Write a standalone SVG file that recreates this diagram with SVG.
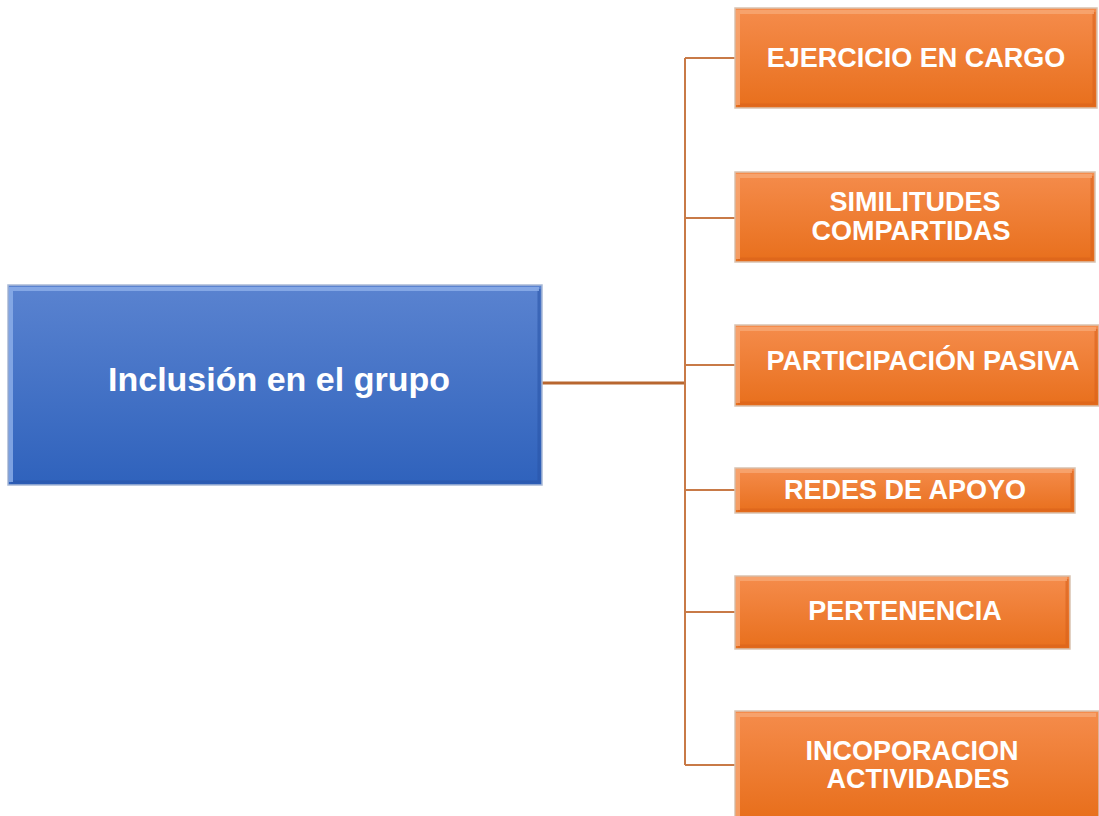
<svg xmlns="http://www.w3.org/2000/svg" width="1099" height="816" viewBox="0 0 1099 816">
<defs>
<linearGradient id="gO" x1="0" y1="0" x2="0" y2="1">
<stop offset="0" stop-color="#F58C4C"/>
<stop offset="1" stop-color="#E86F1C"/>
</linearGradient>
<linearGradient id="gB" x1="0" y1="0" x2="0" y2="1">
<stop offset="0" stop-color="#5A83D0"/>
<stop offset="1" stop-color="#2F62BC"/>
</linearGradient>
<style>
.o{fill:url(#gO);stroke:#D9C2B0;stroke-width:1.5}
.b{fill:url(#gB);stroke:#A9B9D6;stroke-width:1.5}
.hlO{fill:none;stroke:#F8A874;stroke-width:4;opacity:0.8}
.shO{fill:none;stroke:#D9601A;stroke-width:3;opacity:0.6}
.hlB{fill:none;stroke:#8FB0EA;stroke-width:4;opacity:0.8}
.shB{fill:none;stroke:#2A55A8;stroke-width:3;opacity:0.6}
.t{font-family:"Liberation Sans",Arial,sans-serif;font-weight:bold;fill:#FFFFFF;text-anchor:middle}
.c{fill:none;stroke:#C87A47;stroke-width:2}
.cm{fill:none;stroke:#B8662F;stroke-width:3}
</style>
</defs>
<g id="connectors">
<path class="cm" d="M542,383 H685"/>
<path class="c" d="M685,58 V765"/>
<path class="c" d="M685,58 H735"/>
<path class="c" d="M685,218 H735"/>
<path class="c" d="M685,365 H735"/>
<path class="c" d="M685,490 H735"/>
<path class="c" d="M685,612 H735"/>
<path class="c" d="M685,765 H735"/>
</g>
<g id="root">
<rect class="b" x="8" y="285" width="534" height="200"/>
<path class="shB" d="M11,482 H539 V289"/>
<path class="hlB" d="M11,482 V289 H539"/>
<text class="t" x="279" y="391" font-size="34">Inclusión en el grupo</text>
</g>
<g id="n1">
<rect class="o" x="735" y="8" width="362" height="100"/>
<path class="shO" d="M738,105 H1094 V12"/>
<path class="hlO" d="M738,105 V12 H1094"/>
<text class="t" x="916" y="67" font-size="27">EJERCICIO EN CARGO</text>
</g>
<g id="n2">
<rect class="o" x="735" y="172" width="360" height="90"/>
<path class="shO" d="M738,259 H1092 V176"/>
<path class="hlO" d="M738,259 V176 H1092"/>
<text class="t" x="915" y="211" font-size="27">SIMILITUDES</text>
<text class="t" x="911" y="240" font-size="27">COMPARTIDAS</text>
</g>
<g id="n3">
<rect class="o" x="735" y="325" width="364" height="81"/>
<path class="shO" d="M738,403 H1096 V329"/>
<path class="hlO" d="M738,403 V329 H1096"/>
<text class="t" x="923" y="370" font-size="27">PARTICIPACIÓN PASIVA</text>
</g>
<g id="n4">
<rect class="o" x="735" y="468" width="340" height="45"/>
<path class="shO" d="M738,510 H1072 V471"/>
<path class="hlO" d="M738,510 V471 H1072"/>
<text class="t" x="905" y="499" font-size="27">REDES DE APOYO</text>
</g>
<g id="n5">
<rect class="o" x="735" y="576" width="335" height="73"/>
<path class="shO" d="M738,646 H1067 V579"/>
<path class="hlO" d="M738,646 V579 H1067"/>
<text class="t" x="905" y="620" font-size="27">PERTENENCIA</text>
</g>
<g id="n6">
<rect class="o" x="735" y="711" width="364" height="106"/>
<path class="hlO" d="M738,816 V715 H1096"/>
<text class="t" x="912" y="760" font-size="27">INCOPORACION</text>
<text class="t" x="918" y="788" font-size="27">ACTIVIDADES</text>
</g>
</svg>
